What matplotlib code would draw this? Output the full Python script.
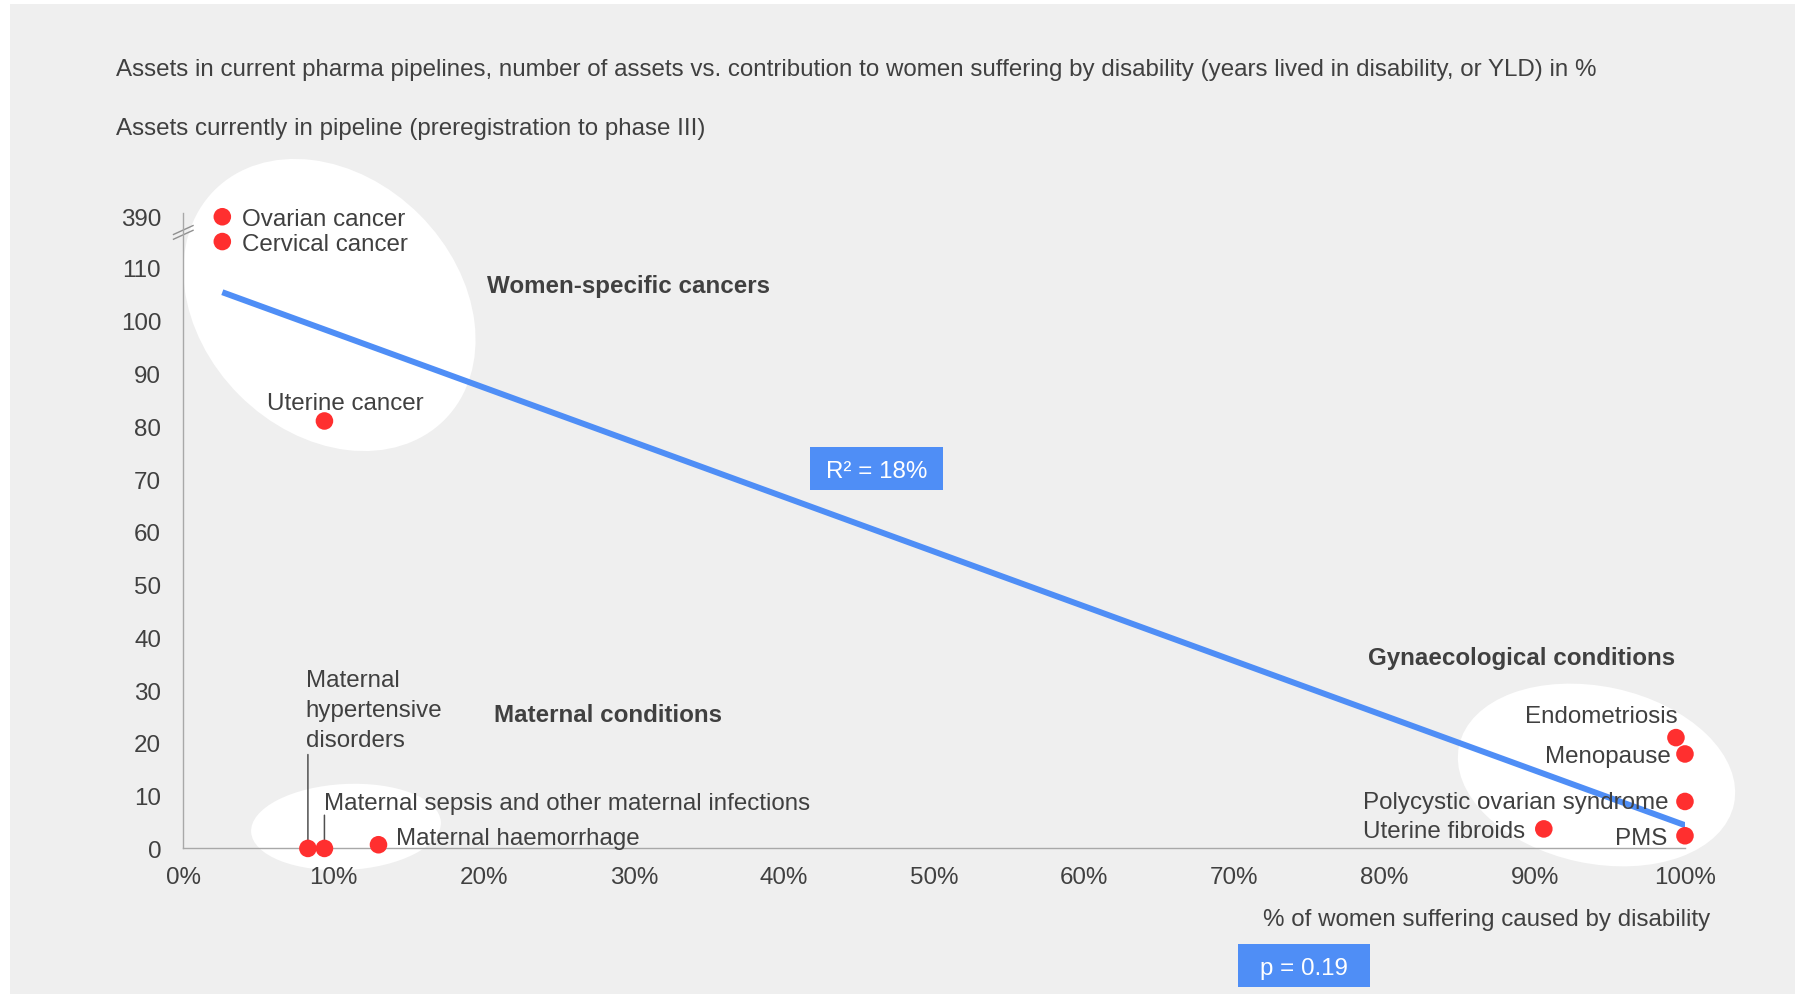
import numpy as np
import matplotlib.pyplot as plt
from matplotlib.patches import Ellipse, Rectangle

plt.rcParams['font.family'] = ['Liberation Sans', 'DejaVu Sans']

# data
conditions = ['Ovarian cancer', 'Cervical cancer', 'Uterine cancer',
              'Maternal\nhypertensive\ndisorders',
              'Maternal sepsis and other maternal infections',
              'Maternal haemorrhage', 'Endometriosis', 'Menopause',
              'Polycystic ovarian syndrome', 'Uterine fibroids', 'PMS']
disability_pct = [2.6, 2.6, 9.4, 8.3, 9.4, 13.0, 99.4, 100.0, 100.0, 90.6, 100.0]
assets = [390, 115, 81, 0, 0, 0.7, 21, 17.9, 8.9, 3.7, 2.4]

trend_x = [2.6, 100.1]
trend_y = [105.4, 4.3]

groups = ['Women-specific cancers', 'Maternal conditions', 'Gynaecological conditions']
group_x = [20.2, 20.7, 78.9]
group_y = [107.1, 25.8, 36.6]

x_ticks = [0, 10, 20, 30, 40, 50, 60, 70, 80, 90, 100]
y_ticks = [0, 10, 20, 30, 40, 50, 60, 70, 80, 90, 100, 110, 390]

r2_text = 'R² = 18%'
p_text = 'p = 0.19'

# label placement: (dx, dy) in points, ha, leader line length
label_style = [
    (14, 0, 'left', 0), (14, 0, 'left', 0), (14.8, 14.8, 'center', 0),
    (-1.5, 100.0, 'left', 67.6), (0, 34.6, 'left', 23.9), (12.4, 6.6, 'left', 0),
    (1.5, 17.3, 'right', 0), (-9.9, 0, 'right', 0), (-11.5, 1.2, 'right', 0),
    (-13.2, 0, 'right', 0), (-12.4, 0, 'right', 0),
]

TXT = '#404040'
BLUE = '#4f8ef6'
RED = '#ff2f2f'
BG = '#efefef'
FS = 17.4

# broken y axis: everything above 115 is squeezed
BREAK = 115
SQUEEZE = 4.7 / 275


def fwd(y):
    y = np.asarray(y, float)
    return np.where(y <= BREAK, y, BREAK + (y - BREAK) * SQUEEZE)


def inv(p):
    p = np.asarray(p, float)
    return np.where(p <= BREAK, p, BREAK + (p - BREAK) / SQUEEZE)


fig = plt.figure(figsize=(17.95, 9.95), dpi=100, facecolor='white')
fig.add_artist(Rectangle((0.10, 0), 17.85, 9.90, transform=fig.dpi_scale_trans,
                         facecolor=BG, edgecolor='none', zorder=-3))

# white group ellipses (inches from bottom-left)
for (cx, cy, w, h, ang) in [(3.295, 6.89, 3.25, 2.55, -45),
                            (3.46, 1.67, 1.90, 0.86, 3),
                            (15.965, 2.19, 2.81, 1.77, -12)]:
    fig.add_artist(Ellipse((cx, cy), w, h, angle=ang, transform=fig.dpi_scale_trans,
                           facecolor='white', edgecolor='none', zorder=-1))

ax = fig.add_axes([0.1021, 0.1463, 0.8366, 0.6391])
ax.patch.set_visible(False)
ax.set_yscale('function', functions=(fwd, inv))
ax.set_xlim(0, 100)
ax.set_ylim(0, float(inv(120.5)))

for s in ['top', 'right']:
    ax.spines[s].set_visible(False)
for s in ['left', 'bottom']:
    ax.spines[s].set_color('#a8a8a8')
    ax.spines[s].set_linewidth(1.0)

ax.set_xticks(x_ticks)
ax.set_xticklabels([f'{t}%' for t in x_ticks])
ax.set_yticks(y_ticks)
ax.set_yticklabels([str(t) for t in y_ticks])
ax.yaxis.set_minor_locator(plt.NullLocator())
ax.tick_params(axis='both', length=0, labelsize=FS, labelcolor=TXT)
ax.tick_params(axis='y', pad=16)
ax.tick_params(axis='x', pad=13)
for lab in ax.get_yticklabels():
    lab.set_verticalalignment('center_baseline')

# axis break marks
for off in (0.0, 0.0075):
    ax.plot([-0.0065, 0.0065], [0.958 + off, 0.972 + off], transform=ax.transAxes,
            color='#909090', lw=1.0, clip_on=False)

ax.plot(trend_x, trend_y, color=BLUE, lw=4.3, solid_capstyle='butt', zorder=3)

for name, x, y, (dx, dy, ha, lead) in zip(conditions, disability_pct, assets, label_style):
    if lead:
        ax.annotate('', xy=(x, y), xytext=(0, lead), textcoords='offset points',
                    arrowprops=dict(arrowstyle='-', color='#505050', lw=1.1,
                                    shrinkA=0, shrinkB=0), zorder=2)
    ax.annotate(name, xy=(x, y), xytext=(dx, dy), textcoords='offset points',
                ha=ha, va='center_baseline' if '\n' not in name else 'center',
                fontsize=FS, color=TXT, linespacing=1.47, zorder=4)

ax.scatter(disability_pct, assets, s=160, color=RED, edgecolors='none',
           zorder=5, clip_on=False)

for g, x, y in zip(groups, group_x, group_y):
    ax.text(x, y, g, ha='left', va='center_baseline', fontsize=FS,
            fontweight='bold', color=TXT)

fig.text(115.6 / 1795, 1 - 67.5 / 995,
         'Assets in current pharma pipelines, number of assets vs. contribution to women '
         'suffering by disability (years lived in disability, or YLD) in %',
         ha='left', va='center_baseline', fontsize=FS, color=TXT)
fig.text(115.6 / 1795, 1 - 127 / 995,
         'Assets currently in pipeline (preregistration to phase III)',
         ha='left', va='center_baseline', fontsize=FS, color=TXT)
fig.text(1710 / 1795, 1 - 918 / 995, '% of women suffering caused by disability',
         ha='right', va='center_baseline', fontsize=FS, color=TXT)

# stat boxes
for (x0, y0, x1, y1, t) in [(810, 448, 943, 491, r2_text), (1237.5, 944.5, 1370, 988, p_text)]:
    fig.add_artist(Rectangle((x0 / 1795, 1 - y1 / 995), (x1 - x0) / 1795, (y1 - y0) / 995,
                             transform=fig.transFigure, facecolor=BLUE, edgecolor='none'))
    fig.text((x0 + x1) / 2 / 1795, 1 - (y0 + y1) / 2 / 995, t, ha='center',
             va='center_baseline', fontsize=FS, color='white')

fig.savefig('out.png', dpi=100, facecolor=fig.get_facecolor())
